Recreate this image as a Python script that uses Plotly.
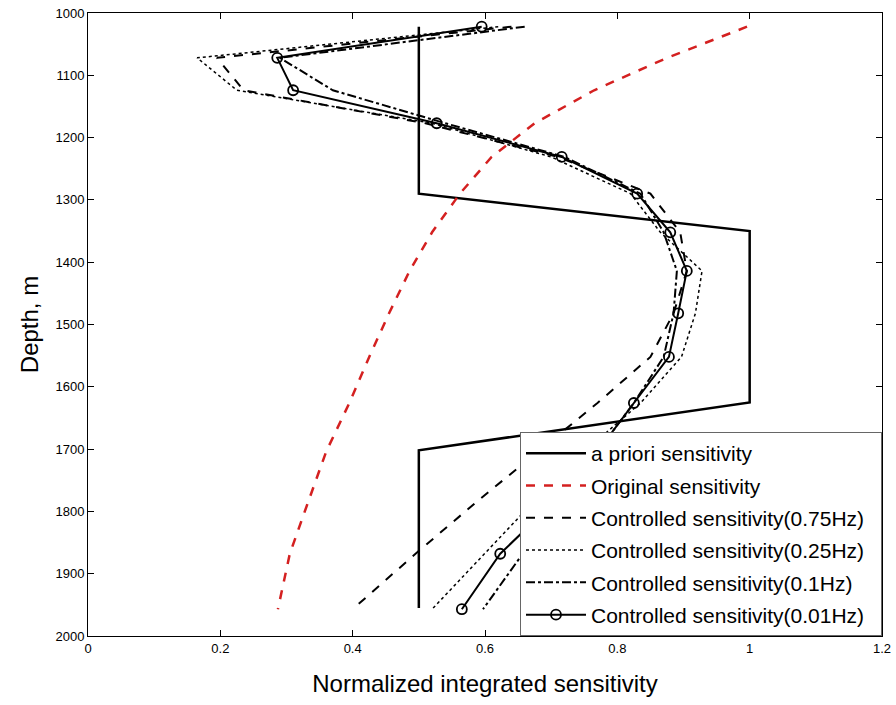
import plotly.graph_objects as go

depth = [1022, 1072, 1124, 1177, 1231, 1290, 1352, 1414, 1482, 1552, 1626, 1704, 1784, 1868, 1957]

apriori_depth = [1022, 1290, 1350, 1625, 1702, 1955]
apriori_val = [0.5, 0.5, 1.0, 1.0, 0.5, 0.5]

original = [0.996, 0.875, 0.765, 0.675, 0.61, 0.562, 0.52, 0.486, 0.455, 0.425, 0.395, 0.36, 0.333, 0.305, 0.287]
ctrl_075 = [0.64, 0.195, 0.235, 0.51, 0.71, 0.85, 0.895, 0.905, 0.885, 0.85, 0.77, 0.68, 0.588, 0.495, 0.40]
ctrl_025 = [0.62, 0.165, 0.225, 0.52, 0.70, 0.82, 0.865, 0.928, 0.918, 0.897, 0.835, 0.75, 0.674, 0.599, 0.52]
ctrl_01 = [0.66, 0.29, 0.37, 0.54, 0.72, 0.835, 0.87, 0.89, 0.885, 0.87, 0.825, 0.77, 0.712, 0.657, 0.597]
ctrl_001 = [0.595, 0.286, 0.31, 0.527, 0.716, 0.83, 0.88, 0.905, 0.892, 0.878, 0.825, 0.77, 0.705, 0.623, 0.565]

names = ["a priori sensitivity", "Original sensitivity", "Controlled sensitivity(0.75Hz)",
         "Controlled sensitivity(0.25Hz)", "Controlled sensitivity(0.1Hz)", "Controlled sensitivity(0.01Hz)"]

x_ticks = [0, 0.2, 0.4, 0.6, 0.8, 1, 1.2]
y_ticks = [1000, 1100, 1200, 1300, 1400, 1500, 1600, 1700, 1800, 1900, 2000]

pad = "\u00a0\u00a0"

fig = go.Figure()
fig.add_trace(go.Scatter(x=apriori_val, y=apriori_depth, mode="lines", legendgroup="a",
                         line=dict(color="black", width=2.5), name=names[0] + pad))
fig.add_trace(go.Scatter(x=original, y=depth, mode="lines", legendgroup="b",
                         line=dict(color="#d42020", width=2.5, dash="dash"), name=names[1] + pad))
fig.add_trace(go.Scatter(x=ctrl_075, y=depth, mode="lines", legendgroup="c",
                         line=dict(color="black", width=2, dash="dash"), name=names[2] + pad))
fig.add_trace(go.Scatter(x=ctrl_025, y=depth, mode="lines", legendgroup="d",
                         line=dict(color="black", width=1.5, dash="dot"), name=names[3] + pad))
fig.add_trace(go.Scatter(x=ctrl_01, y=depth, mode="lines", legendgroup="e",
                         line=dict(color="black", width=2, dash="dashdot"), name=names[4] + pad))
fig.add_trace(go.Scatter(x=ctrl_001, y=depth, mode="lines+markers", legendgroup="f",
                         line=dict(color="black", width=2),
                         marker=dict(symbol="circle-open", size=10, color="black", line=dict(width=1.8)),
                         name=names[5] + pad))

axis_common = dict(showline=True, linecolor="black", linewidth=1, mirror="allticks",
                   ticks="inside", ticklen=6, tickcolor="black", showgrid=False, zeroline=False,
                   automargin=False,
                   tickfont=dict(family="Liberation Sans", size=13, color="black"))

fig.update_xaxes(range=[0, 1.2], tickvals=x_ticks, ticktext=[str(v) for v in x_ticks],
                 title=dict(text="Normalized integrated sensitivity",
                            font=dict(family="Liberation Sans", size=24, color="black"), standoff=20),
                 **axis_common)
fig.update_yaxes(range=[2000, 1000], tickvals=y_ticks,
                 title=dict(text="Depth, m",
                            font=dict(family="Liberation Sans", size=24, color="black"), standoff=10),
                 **axis_common)

fig.update_layout(
    width=896, height=705,
    margin=dict(l=88, r=14, t=13, b=69),
    paper_bgcolor="white", plot_bgcolor="white",
    font=dict(family="Liberation Sans", color="black"),
    legend=dict(x=1, y=0, xanchor="right", yanchor="bottom",
                bgcolor="white", bordercolor="#666666", borderwidth=1,
                font=dict(family="Liberation Sans", size=21, color="black"),
                tracegroupgap=2, itemwidth=60),
)

fig.write_html("out.html", config={"displayModeBar": False},
               post_script="document.body.style.margin='0';")
